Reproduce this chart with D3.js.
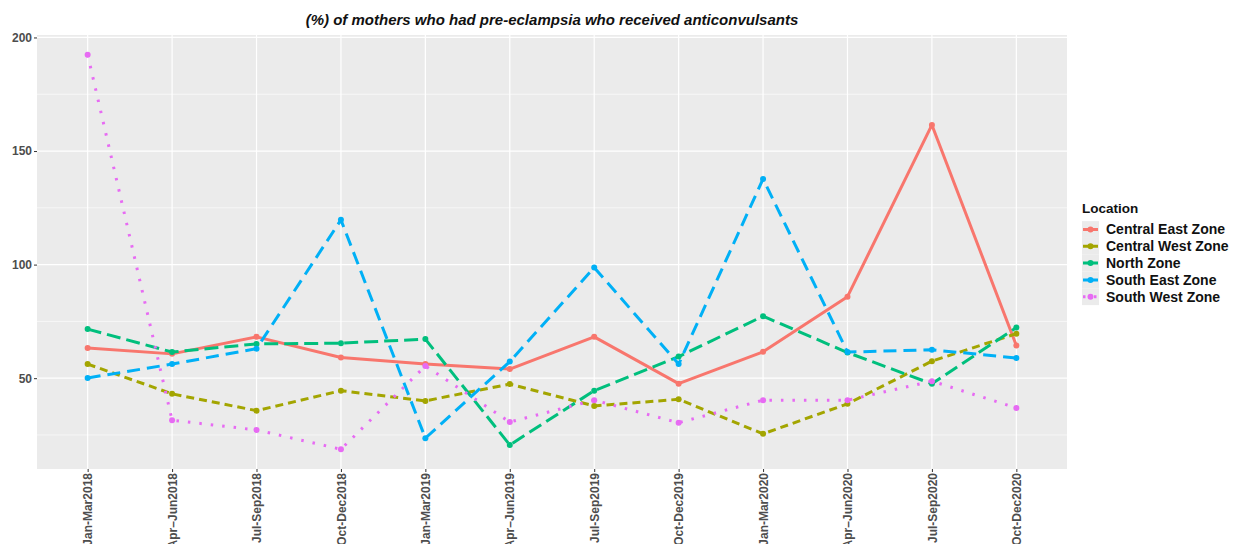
<!DOCTYPE html>
<html>
<head>
<meta charset="utf-8">
<script src="https://cdn.jsdelivr.net/npm/d3@7"></script>
<style>
  html, body { margin: 0; padding: 0; background: #ffffff; }
  svg { display: block; font-family: "Liberation Sans", Arial, sans-serif; }
</style>
</head>
<body>
<svg id="chart" width="1234" height="544"></svg>
<script>
const categories = ["Jan-Mar2018","Apr\u2013Jun2018","Jul-Sep2018","Oct-Dec2018","Jan-Mar2019","Apr\u2013Jun2019","Jul-Sep2019","Oct-Dec2019","Jan-Mar2020","Apr\u2013Jun2020","Jul-Sep2020","Oct-Dec2020"];
const seriesNames = ["Central East Zone","Central West Zone","North Zone","South East Zone","South West Zone"];
const centralEast = [63.3, 60.7, 68.2, 59.1, 56.2, 54.0, 68.2, 47.6, 61.6, 85.9, 161.5, 64.4];
const centralWest = [56.2, 43.1, 35.7, 44.5, 40.0, 47.4, 37.8, 40.7, 25.5, 38.7, 57.5, 69.6];
const northZone   = [71.6, 61.5, 65.1, 65.4, 67.2, 20.6, 44.5, 59.5, 77.3, 61.3, 47.5, 72.3];
const southEast   = [50.1, 56.2, 63.0, 119.7, 23.6, 57.3, 98.7, 56.2, 137.7, 61.5, 62.5, 58.9];
const southWest   = [192.4, 31.5, 27.2, 18.7, 55.4, 30.7, 40.3, 30.4, 40.3, 40.3, 48.7, 36.9];
const yTicks = [50, 100, 150, 200];
const yMinorTicks = [25, 75, 125, 175];
const titleText = "(%) of mothers who had pre-eclampsia who received anticonvulsants";
const legendTitle = "Location";

const seriesValues = [centralEast, centralWest, northZone, southEast, southWest];
const colors = ["#F8766D", "#A3A500", "#00BF7D", "#00B0F6", "#E76BF3"];
const dashes = [null, "8,5", "14,6", "13,7", "2.5,9"];

const svg = d3.select("#chart");
const panel = {left: 37, right: 1067, top: 35, bottom: 469};

const allVals = seriesValues.flat();
const vmin = d3.min(allVals), vmax = d3.max(allVals);
const pad = (vmax - vmin) * 0.05;

const x = d3.scalePoint().domain(categories).range([panel.left, panel.right]).padding(0.6);
const y = d3.scaleLinear().domain([vmin - pad, vmax + pad]).range([panel.bottom, panel.top]);

// panel background
svg.append("rect")
  .attr("x", panel.left).attr("y", panel.top)
  .attr("width", panel.right - panel.left).attr("height", panel.bottom - panel.top)
  .attr("fill", "#EBEBEB");

// minor grid
svg.append("g").selectAll("line").data(yMinorTicks).join("line")
  .attr("x1", panel.left).attr("x2", panel.right)
  .attr("y1", d => y(d)).attr("y2", d => y(d))
  .attr("stroke", "#ffffff").attr("stroke-width", 0.6);
// major grid
svg.append("g").selectAll("line").data(yTicks).join("line")
  .attr("x1", panel.left).attr("x2", panel.right)
  .attr("y1", d => y(d)).attr("y2", d => y(d))
  .attr("stroke", "#ffffff").attr("stroke-width", 1.2);
svg.append("g").selectAll("line").data(categories).join("line")
  .attr("x1", d => x(d)).attr("x2", d => x(d))
  .attr("y1", panel.top).attr("y2", panel.bottom)
  .attr("stroke", "#ffffff").attr("stroke-width", 1.2);

// axes
const yAxis = d3.axisLeft(y).tickValues(yTicks).tickSize(3).tickPadding(2);
const gy = svg.append("g").attr("transform", `translate(${panel.left},0)`).call(yAxis);
gy.select(".domain").remove();
gy.selectAll(".tick line").attr("stroke", "#333333").attr("stroke-width", 1);
gy.selectAll(".tick text").attr("fill", "#4d4d4d").attr("font-size", 12).attr("font-weight", "bold")
  .attr("font-family", "Liberation Sans, Arial, sans-serif");

const xAxis = d3.axisBottom(x).tickSize(3).tickPadding(2);
const gx = svg.append("g").attr("transform", `translate(0,${panel.bottom})`).call(xAxis);
gx.select(".domain").remove();
gx.selectAll(".tick line").attr("stroke", "#333333").attr("stroke-width", 1);
gx.selectAll(".tick text")
  .attr("fill", "#4d4d4d").attr("font-size", 12).attr("font-weight", "bold")
  .attr("font-family", "Liberation Sans, Arial, sans-serif")
  .attr("text-anchor", "end")
  .attr("transform", "rotate(-90)")
  .attr("x", -4).attr("y", 0).attr("dy", "0.35em");

// lines
const line = d3.line().x((d, i) => x(categories[i])).y(d => y(d));
const gLines = svg.append("g");
seriesValues.forEach((vals, si) => {
  gLines.append("path")
    .datum(vals)
    .attr("d", line)
    .attr("fill", "none")
    .attr("stroke", colors[si])
    .attr("stroke-width", 3)
    .attr("stroke-dasharray", dashes[si])
    .attr("stroke-linejoin", "round");
});
seriesValues.forEach((vals, si) => {
  gLines.append("g").selectAll("circle").data(vals).join("circle")
    .attr("cx", (d, i) => x(categories[i]))
    .attr("cy", d => y(d))
    .attr("r", 3)
    .attr("fill", colors[si]);
});

// title
svg.append("text")
  .attr("x", (panel.left + panel.right) / 2).attr("y", 25)
  .attr("text-anchor", "middle")
  .attr("font-size", 15).attr("font-weight", "bold").attr("font-style", "italic")
  .attr("fill", "#111")
  .text(titleText);

// legend
const lg = svg.append("g").attr("transform", "translate(1082,0)");
lg.append("text").attr("x", 0).attr("y", 213)
  .attr("font-size", 13.5).attr("font-weight", "bold").attr("fill", "#111")
  .text(legendTitle);
seriesNames.forEach((name, i) => {
  const cy = 229.5 + i * 16.8;
  lg.append("rect").attr("x", 0).attr("y", cy - 8.4).attr("width", 17).attr("height", 16.8).attr("fill", "#EBEBEB");
  lg.append("line").attr("x1", 1).attr("x2", 16).attr("y1", cy).attr("y2", cy)
    .attr("stroke", colors[i]).attr("stroke-width", 3)
    .attr("stroke-dasharray", dashes[i] ? (i === 4 ? "2.5,3" : "7,2") : null);
  lg.append("circle").attr("cx", 8.5).attr("cy", cy).attr("r", 3).attr("fill", colors[i]);
  lg.append("text").attr("x", 24).attr("y", cy).attr("dy", "0.35em")
    .attr("font-size", 14).attr("font-weight", "bold").attr("fill", "#111")
    .text(name);
});
</script>
</body>
</html>
